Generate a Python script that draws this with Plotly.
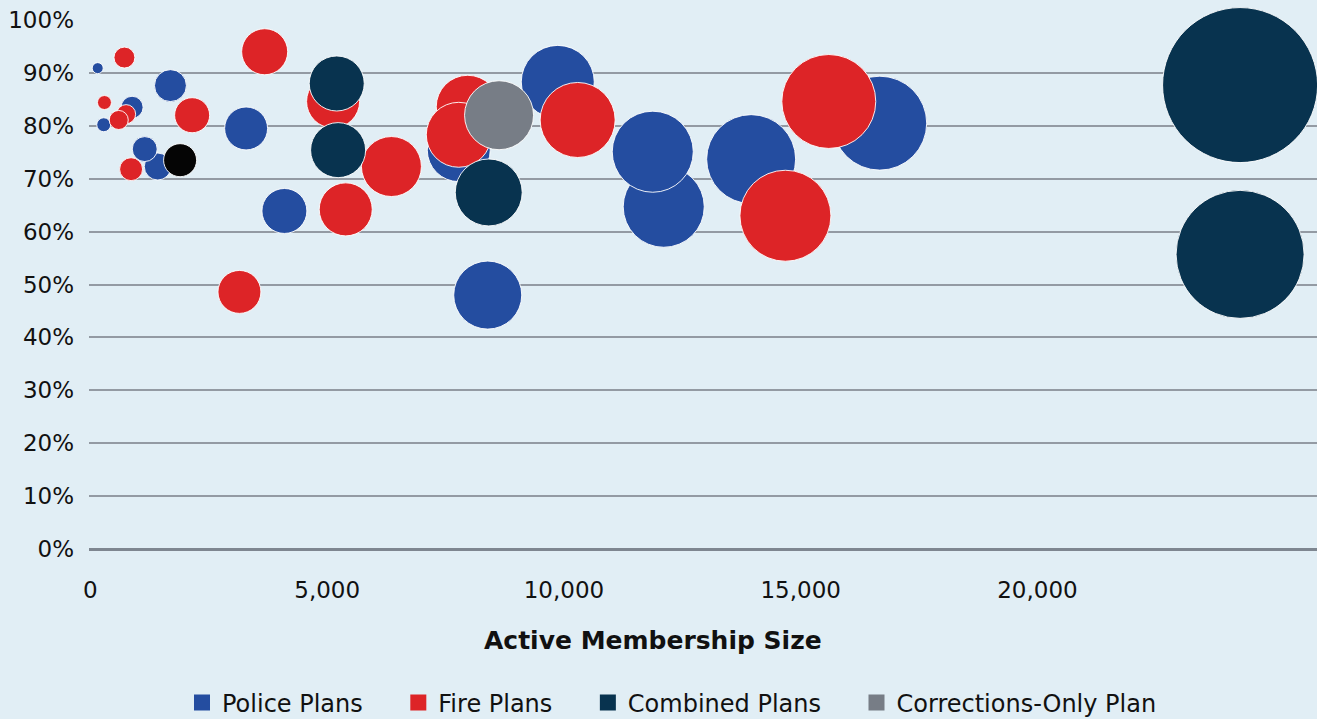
import plotly.graph_objects as go

# ---------------- data ----------------
# Police Plans
police_members = [154, 281, 880, 1690, 1422, 1147, 3288, 4097, 7779, 8391, 9870, 12108, 11876, 13954, 16670]
police_funded = [0.909, 0.802, 0.835, 0.876, 0.723, 0.756, 0.795, 0.639, 0.754, 0.480, 0.883, 0.647, 0.751, 0.737, 0.805]
police_size = [7.1, 9.0, 14.2, 20.6, 17.4, 16.1, 27.7, 29.0, 40.6, 43.9, 47.1, 52.3, 52.3, 57.4, 60.6]

# Fire Plans
fire_members = [718, 296, 754, 598, 859, 2148, 3680, 3147, 5125, 5392, 6357, 7968, 7779, 10290, 14678, 15594]
fire_funded = [0.929, 0.844, 0.822, 0.811, 0.718, 0.820, 0.940, 0.486, 0.846, 0.642, 0.723, 0.836, 0.783, 0.811, 0.630, 0.846]
fire_size = [13.5, 9.0, 12.3, 12.3, 14.8, 22.6, 29.7, 27.7, 34.2, 34.2, 38.7, 40.6, 41.9, 48.4, 58.7, 60.6]

# Combined Plans
combined_members = [5202, 5231, 8412, 24280, 24280]
combined_funded = [0.880, 0.754, 0.674, 0.877, 0.557]
combined_size = [35.5, 35.5, 43.2, 100.0, 82.6]

# Corrections-Only Plan
corrections_members = [8630]
corrections_funded = [0.820]
corrections_size = [44.5]

# Other (black bubble, not in legend)
other_members = [1894]
other_funded = [0.735]
other_size = [21.3]

x_tick_vals = [0, 5000, 10000, 15000, 20000]
x_tick_text = ["0", "5,000", "10,000", "15,000", "20,000"]
y_tick_vals = [0, 0.1, 0.2, 0.3, 0.4, 0.5, 0.6, 0.7, 0.8, 0.9, 1.0]
legend_names = ["Police Plans", "Fire Plans", "Combined Plans", "Corrections-Only Plan"]

# ---------------- styles ----------------
BG = "#e1eef5"
C_POLICE = "#244da0"
C_FIRE = "#dd2427"
C_COMBINED = "#08334f"
C_CORR = "#777d86"
C_OTHER = "#050505"
FONT = "DejaVu Sans"
MAX_D = 155  # px diameter of largest bubble
SIZEREF = max(combined_size) / MAX_D

fig = go.Figure()


def bubbles(x, y, s, color):
    fig.add_trace(go.Scatter(
        x=x, y=y, mode="markers", showlegend=False, cliponaxis=False,
        marker=dict(size=s, sizemode="diameter", sizeref=SIZEREF, color=color,
                    opacity=1, line=dict(color="rgba(255,255,255,0.9)", width=1)),
        hoverinfo="x+y",
    ))


bubbles(police_members, police_funded, police_size, C_POLICE)
bubbles(fire_members, fire_funded, fire_size, C_FIRE)
bubbles(combined_members, combined_funded, combined_size, C_COMBINED)
bubbles(corrections_members, corrections_funded, corrections_size, C_CORR)
bubbles(other_members, other_funded, other_size, C_OTHER)

# legend entries (square swatches)
PAD = "\u00a0" * 4
colors = [C_POLICE, C_FIRE, C_COMBINED, C_CORR]
for i, (name, color) in enumerate(zip(legend_names, colors)):
    label = name + (PAD if i < len(legend_names) - 1 else "")
    fig.add_trace(go.Scatter(
        x=[None], y=[None], mode="markers", name=label,
        marker=dict(symbol="square", size=18, color=color),
    ))

L, R, T, B = 89, 0, 20, 170
W, H = 1317, 719
plot_w = W - L - R
plot_h = H - T - B
px_per_5000 = 236.75
x_min = -30
x_max = x_min + plot_w / px_per_5000 * 5000

fig.update_layout(
    width=W, height=H,
    margin=dict(l=L, r=R, t=T, b=B, autoexpand=False),
    paper_bgcolor=BG, plot_bgcolor=BG,
    font=dict(family=FONT, size=23, color="#111111"),
    showlegend=True,
    legend=dict(orientation="h", x=(672 - L) / plot_w, xanchor="center",
                yref="container", y=1 - 703 / H, yanchor="middle",
                font=dict(family=FONT, size=24, color="#111111"),
                bgcolor="rgba(0,0,0,0)", itemsizing="trace", tracegroupgap=0),
    xaxis=dict(range=[x_min, x_max], tickvals=x_tick_vals, ticktext=x_tick_text,
               showgrid=False, zeroline=False, showline=False, ticks="",
               ticklabelstandoff=25, fixedrange=True),
    yaxis=dict(range=[0, 1], tickvals=y_tick_vals, tickformat=".0%",
               showgrid=True, gridcolor="#939aa3", gridwidth=1.6,
               zeroline=True, zerolinecolor="#7e8690", zerolinewidth=2.6,
               showline=False, ticks="", ticklabelstandoff=14, fixedrange=True),
    annotations=[dict(text="<b>Active Membership Size</b>", xref="paper", yref="paper",
                      x=(652.5 - L) / plot_w, y=(549 - 641) / plot_h,
                      xanchor="center", yanchor="middle", showarrow=False,
                      font=dict(family=FONT, size=25, color="#111111"))],
)

fig.write_html("out.html", config={"displayModeBar": False},
               post_script="document.body.style.margin='0';document.body.style.overflow='hidden';")
